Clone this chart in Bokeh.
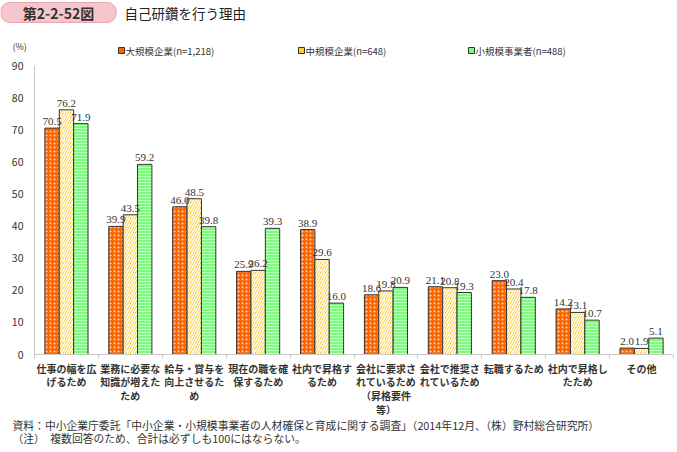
from bokeh.plotting import figure
from bokeh.layouts import column
from bokeh.models import (Range1d, FixedTicker, ColumnDataSource, LabelSet, Label)
from bokeh.core.properties import value
from bokeh.embed import file_html
from bokeh.resources import INLINE

categories = [
    "仕事の幅を広\nげるため",
    "業務に必要な\n知識が増えた\nため",
    "給与・賞与を\n向上させるた\nめ",
    "現在の職を確\n保するため",
    "社内で昇格す\nるため",
    "会社に要求さ\nれているため\n（昇格要件\n等）",
    "会社で推奨さ\nれているため",
    "転職するため",
    "社内で昇格し\nたため",
    "その他",
]
large = [70.5, 39.9, 46.0, 25.9, 38.9, 18.6, 21.1, 23.0, 14.2, 2.0]
medium = [76.2, 43.5, 48.5, 26.2, 29.6, 19.8, 20.8, 20.4, 13.1, 1.9]
small = [71.9, 59.2, 39.8, 39.3, 16.0, 20.9, 19.3, 17.8, 10.7, 5.1]
series_names = ["大規模企業(n=1,218)", "中規模企業(n=648)", "小規模事業者(n=488)"]
y_ticks = [0, 10, 20, 30, 40, 50, 60, 70, 80, 90]

title_tag = "第2-2-52図"
title_text = "自己研鑽を行う理由"
y_unit = "(%)"
note1 = "資料：中小企業庁委託「中小企業・小規模事業者の人材確保と育成に関する調査」（2014年12月、（株）野村総合研究所）"
note2 = "（注）　複数回答のため、合計は必ずしも100にはならない。"

FONT = "Noto Sans CJK JP"
TXT = "#333333"
W = 677
n = len(categories)
xs = list(range(n))
bw = 0.225

styles = [
    dict(fill_color="#FF6600", hatch_pattern="dot", hatch_color="#FFD0B0",
         hatch_scale=4, hatch_weight=1.2),
    dict(fill_color="#FFCC33", hatch_pattern="right_diagonal_line", hatch_color="white",
         hatch_scale=5, hatch_weight=1.5),
    dict(fill_color="#7CFC7C", hatch_pattern="horizontal_line", hatch_color="#C4FFC4",
         hatch_scale=3, hatch_weight=1),
]


def blank(height, x_range=None, left=0, right=0):
    f = figure(width=W, height=height, output_backend="svg", toolbar_location=None,
               x_range=x_range if x_range is not None else Range1d(0, W),
               y_range=Range1d(height, 0), x_axis_type=None, y_axis_type=None,
               min_border=0, min_border_left=left, min_border_right=right,
               frame_align=False)
    f.outline_line_color = None
    f.grid.visible = False
    return f


# ---------- header: title + legend ----------
H1 = 57
head = blank(H1)
head.add_layout(Label(x=58, y=12, text=title_tag, text_font=FONT, text_font_size="14px",
                      text_font_style="bold", text_color=TXT, text_align="center",
                      text_baseline="middle", background_fill_color="#F5C6CC",
                      border_line_color="#E8A4AC", border_radius=9, padding=(22, 0)))
head.text(x=[124], y=[12], text=[title_text], text_font=value(FONT),
          text_font_size="13.5px", text_color="#222222", text_baseline="middle")
head.text(x=[12], y=[46], text=[y_unit], text_font=value(FONT),
          text_font_size="9px", text_color=TXT, text_baseline="middle")
leg_x = [121, 301, 471]
for lx, st, name in zip(leg_x, styles, series_names):
    head.scatter(x=[lx], y=[50], marker="square", size=6, fill_color=st["fill_color"],
                 line_color="#333333", line_width=1)
    head.text(x=[lx + 4], y=[50], text=[name], text_font=value(FONT),
              text_font_size="9.5px", text_color=TXT, text_baseline="middle")

# ---------- main chart ----------
LEFT, RIGHT = 34, 4
TOP, FRAME, BOT = 8, 289, 6
p = figure(width=W, height=TOP + FRAME + BOT, output_backend="svg",
           toolbar_location=None, x_range=Range1d(-0.5, n - 0.5),
           y_range=Range1d(0, 90), min_border_left=LEFT, min_border_right=RIGHT,
           min_border_top=TOP, min_border_bottom=BOT, frame_align=False)
p.outline_line_color = None
p.grid.visible = False

offsets = [-bw, 0, bw]
for vals, off, st in zip([large, medium, small], offsets, styles):
    src = ColumnDataSource(dict(x=[x + off for x in xs], top=vals,
                                label=[f"{v:.1f}" for v in vals]))
    p.vbar(x="x", top="top", width=bw, source=src, line_color="#333333",
           line_width=1, **st)
    p.add_layout(LabelSet(x="x", y="top", text="label", source=src, y_offset=3,
                          text_align="center", text_baseline="bottom",
                          text_font=FONT, text_font_size="11px", text_color=TXT))

p.yaxis.ticker = FixedTicker(ticks=y_ticks)
p.yaxis.axis_line_color = "#C8C8C8"
p.yaxis.major_tick_out = 0
p.yaxis.major_tick_in = 0
p.yaxis.minor_tick_line_color = None
p.yaxis.major_label_standoff = 11
p.yaxis.major_label_text_font = FONT
p.yaxis.major_label_text_font_size = "10.5px"
p.yaxis.major_label_text_color = TXT

# x axis: only the boundary tick marks; category names drawn below on the same x scale
p.xaxis.ticker = FixedTicker(ticks=[], minor_ticks=[x - 0.5 for x in xs] + [n - 0.5])
p.xaxis.axis_line_color = "#C8C8C8"
p.xaxis.major_tick_line_color = None
p.xaxis.major_tick_out = 0
p.xaxis.major_tick_in = 0
p.xaxis.minor_tick_line_color = "#C8C8C8"
p.xaxis.minor_tick_out = 4
p.xaxis.minor_tick_in = 0
p.xaxis.major_label_standoff = 0

# ---------- category labels (shares the chart's x range) ----------
H2 = 56
cats = blank(H2, x_range=p.x_range, left=LEFT, right=RIGHT)
cats.text(x=xs, y=[0] * n, text=categories, text_align="center", text_baseline="top",
          text_font=value(FONT), text_font_size="10px", text_font_style="bold",
          text_color=TXT, text_line_height=0.93)

# ---------- footer: notes ----------
H3 = 452 - H1 - (TOP + FRAME + BOT) - H2
foot = blank(H3)
foot.text(x=[12, 12], y=[8, 21], text=[note1, note2], text_font=value(FONT),
          text_font_size="10.8px", text_color=TXT, text_baseline="middle")

layout = column(head, p, cats, foot, spacing=0)
open("out.html", "w").write(file_html(layout, INLINE))
